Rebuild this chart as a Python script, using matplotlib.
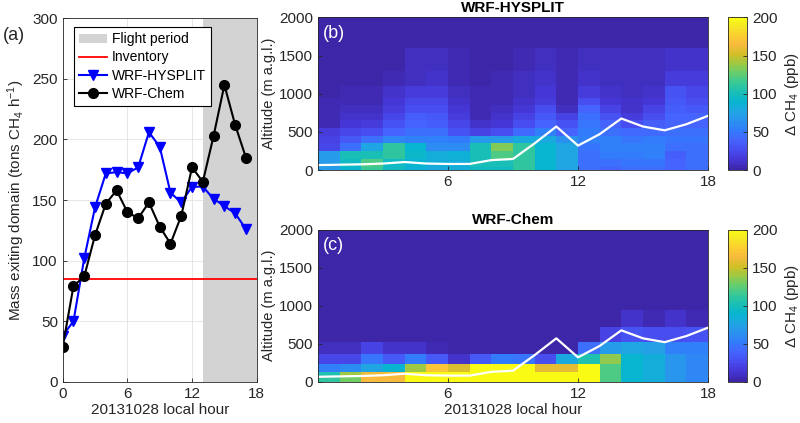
import numpy as np
import matplotlib
matplotlib.use("Agg")
import matplotlib.pyplot as plt
from matplotlib.colors import LinearSegmentedColormap

plt.rcParams["font.family"] = ["Liberation Sans", "DejaVu Sans"]
plt.rcParams["mathtext.default"] = "regular"
plt.rcParams["font.size"] = 11

# ============================================================
# data
# ============================================================

# (a) CH4 mass exiting the domain, tons/h, one value per local hour
hours = np.arange(18)
hysplit_flux = [38, 50, 102, 144, 172, 173, 172, 177, 206, 194,
                156, 148, 161, 161, 151, 145, 139, 126]
chem_flux = [29, 79, 87, 121, 147, 158, 140, 135, 148, 128,
             114, 137, 177, 165, 203, 245, 212, 185]
inventory_flux = 85
flight_period = (13, 18)

# (b), (c) curtains of delta CH4 (ppb), columns = hour 0..17
hour_edges = np.arange(19)
pbl_hours = np.arange(19)
pbl_height = [65, 70, 75, 85, 105, 85, 80, 80, 130, 145,
              350, 570, 320, 470, 675, 570, 520, 600, 710]

hysplit_alt_edges = [0, 40, 150, 250, 350, 450, 550, 660, 750, 855,
                     950, 1100, 1300, 1600, 2000]
# rows from the ground up
hysplit_dch4 = [
    [70, 90, 115, 95, 85, 80, 82, 95, 95, 112, 90, 75, 45, 40, 45, 45, 40, 45],
    [70, 95, 120, 95, 88, 82, 82, 100, 100, 112, 90, 75, 45, 45, 48, 47, 40, 45],
    [70, 100, 100, 112, 92, 82, 85, 100, 120, 112, 90, 78, 45, 50, 52, 55, 35, 45],
    [22, 45, 78, 112, 88, 62, 62, 100, 132, 110, 90, 75, 47, 56, 55, 56, 45, 45],
    [20, 32, 45, 58, 55, 55, 50, 70, 70, 80, 80, 65, 55, 55, 47, 52, 47, 47],
    [16, 24, 26, 40, 46, 44, 30, 20, 26, 42, 55, 40, 52, 45, 42, 42, 46, 45],
    [6, 14, 18, 30, 40, 36, 22, 10, 14, 28, 40, 30, 48, 40, 28, 36, 40, 40],
    [5, 10, 12, 22, 35, 32, 18, 6, 10, 20, 34, 20, 44, 30, 18, 28, 40, 40],
    [4, 8, 8, 18, 28, 26, 14, 5, 8, 15, 26, 8, 38, 20, 12, 20, 36, 34],
    [4, 5, 6, 14, 22, 22, 12, 4, 6, 12, 18, 5, 26, 15, 10, 15, 34, 28],
    [3, 4, 5, 10, 18, 18, 8, 4, 5, 9, 14, 5, 16, 12, 8, 12, 30, 24],
    [2, 2, 3, 6, 9, 10, 6, 3, 4, 7, 10, 4, 10, 8, 8, 9, 16, 16],
    [2, 2, 2, 3, 7, 8, 4, 2, 3, 6, 8, 4, 8, 7, 7, 7, 12, 12],
    [2, 2, 2, 2, 2, 2, 2, 2, 2, 2, 2, 2, 2, 2, 2, 2, 2, 2],
]

chem_alt_edges = [0, 60, 130, 228, 360, 524, 720, 940, 2000]
chem_dch4 = [
    [110, 130, 165, 165, 198, 200, 200, 200, 200, 200, 200, 200, 200, 120, 90, 82, 68, 58],
    [105, 140, 160, 165, 198, 200, 200, 200, 200, 200, 200, 200, 200, 120, 90, 82, 68, 58],
    [55, 60, 78, 90, 140, 170, 155, 200, 200, 200, 158, 158, 200, 120, 90, 82, 68, 58],
    [22, 22, 48, 32, 50, 32, 12, 32, 50, 48, 25, 80, 105, 135, 90, 82, 68, 58],
    [8, 8, 20, 12, 10, 4, 3, 3, 3, 3, 3, 3, 45, 70, 78, 72, 55, 55],
    [2, 2, 2, 2, 2, 2, 2, 2, 2, 2, 2, 2, 2, 20, 30, 25, 28, 30],
    [2, 2, 2, 2, 2, 2, 2, 2, 2, 2, 2, 2, 2, 3, 10, 4, 10, 6],
    [2, 2, 2, 2, 2, 2, 2, 2, 2, 2, 2, 2, 2, 2, 2, 2, 2, 2],
]

# MATLAB parula, sampled
parula_pts = [
    (0 / 63, (0.2422, 0.1504, 0.6603)),
    (4 / 63, (0.2706, 0.2147, 0.8364)),
    (8 / 63, (0.2813, 0.3006, 0.9414)),
    (12 / 63, (0.2699, 0.3892, 0.9906)),
    (16 / 63, (0.1963, 0.4847, 0.9892)),
    (20 / 63, (0.1687, 0.5703, 0.9359)),
    (24 / 63, (0.1248, 0.6459, 0.8883)),
    (28 / 63, (0.0297, 0.7082, 0.8163)),
    (32 / 63, (0.0964, 0.7500, 0.7120)),
    (36 / 63, (0.2161, 0.7843, 0.5923)),
    (40 / 63, (0.3909, 0.8029, 0.4354)),
    (44 / 63, (0.6174, 0.7876, 0.2612)),
    (48 / 63, (0.8203, 0.7498, 0.1535)),
    (52 / 63, (0.9728, 0.7298, 0.2394)),
    (56 / 63, (0.9892, 0.8136, 0.1885)),
    (60 / 63, (0.9597, 0.9135, 0.1423)),
    (63 / 63, (0.9769, 0.9839, 0.0805)),
]
parula = LinearSegmentedColormap.from_list("parula", parula_pts, N=64)

TXT = "#262626"


def style_axes(ax):
    for s in ax.spines.values():
        s.set_color(TXT)
        s.set_linewidth(0.6)
    ax.tick_params(direction="in", length=3, width=0.6, color=TXT,
                   labelcolor=TXT, labelsize=11)


# ============================================================
# figure
# ============================================================

fig = plt.figure(figsize=(8, 4.23), dpi=100)

# ---- (a) ----
ax = fig.add_axes([0.0784, 0.0976, 0.2425, 0.859])
ax.set_axisbelow(True)
ax.grid(True, color="#e3e3e3", lw=0.6)
ax.axvspan(*flight_period, color="#d3d3d3", lw=0, label="Flight period")
ax.axhline(inventory_flux, color="red", lw=1.3, label="Inventory")
ax.plot(hours, hysplit_flux, color="blue", lw=1.5, marker="v", ms=7,
        label="WRF-HYSPLIT")
ax.plot(hours, chem_flux, color="black", lw=1.5, marker="o", ms=7,
        label="WRF-Chem")
ax.set_xlim(0, 18)
ax.set_ylim(0, 300)
ax.set_xticks([0, 6, 12, 18])
ax.set_yticks(np.arange(0, 301, 50))
style_axes(ax)
ax.set_xlabel("20131028 local hour", color=TXT, fontsize=11, labelpad=2)
ax.set_ylabel("Mass exiting domain (tons CH$_4$ h$^{-1}$)", color=TXT,
              fontsize=11, labelpad=4)
leg = ax.legend(loc="upper left", bbox_to_anchor=(0.058, 0.975),
                borderaxespad=0, fontsize=10, fancybox=False, framealpha=1,
                edgecolor="black", handlelength=2.0, handletextpad=0.4,
                borderpad=0.35, labelspacing=0.3)
leg.get_frame().set_linewidth(0.8)
fig.text(0.004, 0.905, "(a)", fontsize=13, color=TXT)

# ---- (b), (c) ----
panels = [
    ([0.3975, 0.598, 0.4875, 0.361], [0.9096, 0.598, 0.0245, 0.361],
     hysplit_alt_edges, hysplit_dch4, "WRF-HYSPLIT", "(b)", False),
    ([0.3975, 0.0976, 0.4875, 0.3598], [0.9096, 0.0976, 0.0245, 0.3598],
     chem_alt_edges, chem_dch4, "WRF-Chem", "(c)", True),
]

for pos, cpos, alt_edges, vals, title, tag, show_xlabel in panels:
    ax = fig.add_axes(pos)
    mesh = ax.pcolormesh(hour_edges, alt_edges, np.array(vals), cmap=parula,
                         vmin=0, vmax=200, shading="flat")
    ax.plot(pbl_hours, pbl_height, color="white", lw=1.6)
    ax.set_xlim(0, 18)
    ax.set_ylim(0, 2000)
    ax.set_xticks([6, 12, 18])
    ax.set_yticks(np.arange(0, 2001, 500))
    style_axes(ax)
    ax.set_ylabel("Altitude (m a.g.l.)", color=TXT, fontsize=10.5, labelpad=2)
    ax.set_title(title, fontsize=11, fontweight="bold", color="black", pad=4)
    ax.text(0.012, 0.95, tag, transform=ax.transAxes, color="white",
            fontsize=13, va="top", ha="left")
    if show_xlabel:
        ax.set_xlabel("20131028 local hour", color=TXT, fontsize=11,
                      labelpad=2)

    cax = fig.add_axes(cpos)
    cb = fig.colorbar(mesh, cax=cax, ticks=[0, 50, 100, 150, 200])
    cb.outline.set_linewidth(0.6)
    cb.outline.set_edgecolor(TXT)
    cax.tick_params(direction="in", length=3, width=0.6, color=TXT,
                    labelcolor=TXT, labelsize=11)
    cb.set_label("\u0394 CH$_4$ (ppb)", color=TXT, fontsize=11, labelpad=4)

fig.savefig("out.png", dpi=100)
